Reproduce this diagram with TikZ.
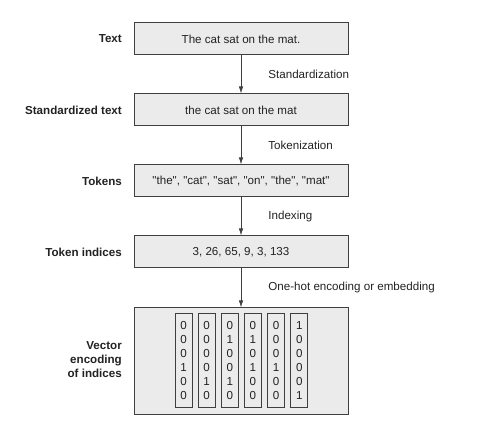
\documentclass[tikz,border=0pt]{standalone}
\usepackage{fontspec}
\setmainfont{Liberation Sans}[Ligatures=TeXOff]
\usepackage{tikz}
\usetikzlibrary{arrows.meta}
\definecolor{boxfill}{HTML}{EBEBEB}
\definecolor{boxline}{HTML}{3F3F3F}
\definecolor{ink}{HTML}{222222}

\begin{document}
\begin{tikzpicture}[x=1pt,y=-1pt,
    every node/.style={text=ink,font=\fontsize{11.6}{13.8}\selectfont},
    stage/.style={draw=boxline,line width=1pt,fill=boxfill,minimum width=214pt,minimum height=32pt,inner sep=0pt},
    rowlab/.style={anchor=east,inner sep=0pt,align=right,font=\fontsize{11.6}{13.8}\selectfont\bfseries},
    steplab/.style={anchor=west,inner sep=0pt,xshift=27pt},
    flow/.style={draw=boxline,line width=0.8pt,-{Latex[length=7pt,width=4.5pt]}},
    onehot/.style={draw=boxline,line width=0.8pt,fill=boxfill,minimum width=17pt,minimum height=94pt,inner sep=0pt,align=center,font=\fontsize{11.6}{14}\selectfont}]
    \useasboundingbox (0,0) rectangle (482,430);
    % stages
    \node[stage] (txt) at (241,39) {The cat sat on the mat.};
    \node[stage] (std) at (241,110) {the cat sat on the mat};
    \node[stage] (tok) at (241,181) {"the", "cat", "sat", "on", "the", "mat"};
    \node[stage] (idx) at (241,252) {3, 26, 65, 9, 3, 133};
    \node[stage,minimum height=106pt] (vec) at (241,361) {};
    % row labels
    \node[rowlab] (txtlab) at (122,39) {Text};
    \node[rowlab] (stdlab) at (122,110) {Standardized text};
    \node[rowlab] (toklab) at (122,181) {Tokens};
    \node[rowlab] (idxlab) at (122,252) {Token indices};
    \node[rowlab] (veclab) at (122,359.5) {Vector\\encoding\\of indices};
    % steps
    \draw[flow] (txt) -- node[steplab] (stdstep) {Standardization} (std);
    \draw[flow] (std) -- node[steplab] (tokstep) {Tokenization} (tok);
    \draw[flow] (tok) -- node[steplab] (idxstep) {Indexing} (idx);
    \draw[flow] (idx) -- node[steplab] (vecstep) {One-hot encoding or embedding} (vec);
    % one-hot vectors
    \foreach \i/\bits in {0/{0\\0\\0\\1\\0\\0},1/{0\\0\\0\\0\\1\\0},2/{0\\1\\0\\0\\1\\0},
                          3/{0\\1\\0\\1\\0\\0},4/{0\\0\\0\\1\\0\\0},5/{1\\0\\0\\0\\0\\1}}
      \node[onehot] (hot\i) at (183.5+23.15*\i,360.3) {\bits};
  \end{tikzpicture}
\end{document}
